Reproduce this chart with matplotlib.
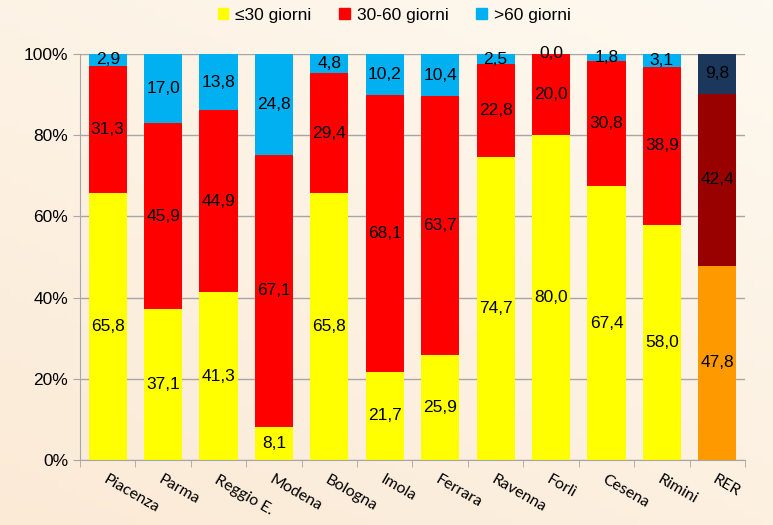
import numpy as np
import matplotlib.pyplot as plt

# dati (%)
aree = ["Piacenza", "Parma", "Reggio E.", "Modena", "Bologna", "Imola",
        "Ferrara", "Ravenna", "Forlì", "Cesena", "Rimini", "RER"]
fino30 = [65.8, 37.1, 41.3, 8.1, 65.8, 21.7, 25.9, 74.7, 80.0, 67.4, 58.0, 47.8]
da30a60 = [31.3, 45.9, 44.9, 67.1, 29.4, 68.1, 63.7, 22.8, 20.0, 30.8, 38.9, 42.4]
oltre60 = [2.9, 17.0, 13.8, 24.8, 4.8, 10.2, 10.4, 2.5, 0.0, 1.8, 3.1, 9.8]
legenda = ["≤30 giorni", "30-60 giorni", ">60 giorni"]

colori = ["#FFFF00", "#FF0000", "#00B0F0"]
colori_rer = ["#FF9900", "#990000", "#1B375C"]

num_font = ["Liberation Sans", "DejaVu Sans"]

fig = plt.figure(figsize=(7.73, 5.25), dpi=100)
fig.patch.set_facecolor("#FDF3E4")

# sfondo sfumato
bg = fig.add_axes([0, 0, 1, 1], zorder=-1)
gy, gx = np.mgrid[0:1:60j, 0:1:80j]
t = np.clip(0.6 * gy + 0.4 * gx, 0, 1)
c0 = np.array([0xFB, 0xEA, 0xD6]) / 255
c1 = np.array([0xFE, 0xF9, 0xF0]) / 255
img = c0 * (1 - t[..., None]) + c1 * t[..., None]
bg.imshow(img, origin="lower", aspect="auto", extent=[0, 1, 0, 1])
bg.axis("off")

ax = fig.add_axes([80 / 773, 65 / 525, 665 / 773, 406 / 525])
ax.set_facecolor("none")

x = np.arange(len(aree))
serie = [fino30, da30a60, oltre60]
base = np.zeros(len(aree))
for i, vals in enumerate(serie):
    vals = np.array(vals)
    cols = [colori[i]] * (len(aree) - 1) + [colori_rer[i]]
    ax.bar(x, vals, 0.69, bottom=base, color=cols, zorder=2)
    for xi, b, v in zip(x, base, vals):
        ax.text(xi, b + v / 2, f"{v:.1f}".replace(".", ","), ha="center",
                va="center", fontsize=12.5, family=num_font, zorder=3)
    base += vals

# legenda in alto
handles = [plt.Rectangle((0, 0), 1, 1, color=c) for c in colori]
fig.legend(handles, legenda, loc="upper center", bbox_to_anchor=(0.51, 1.015),
           ncol=3, frameon=False, handlelength=0.6, handleheight=0.6,
           handletextpad=0.4, columnspacing=1.6,
           prop={"family": num_font, "size": 12.5})

ax.set_xlim(-0.5, len(aree) - 0.5)
ax.set_ylim(0, 100)
ax.set_yticks(range(0, 101, 20))
ax.set_yticklabels([f"{v}%" for v in range(0, 101, 20)],
                   family=num_font, fontsize=12.5)
ax.yaxis.grid(True, color="#A6A6A6", linewidth=1, zorder=0)

ax.set_xticks(x)
ax.set_xticklabels(aree, rotation=-30, ha="left", rotation_mode="anchor",
                   family=["Lato", "DejaVu Sans"], fontsize=11.5)
ax.tick_params(axis="x", length=0, pad=9)
ax.set_xticks(np.arange(-0.5, len(aree)), minor=True)
ax.tick_params(axis="x", which="minor", length=5, color="#A6A6A6")
ax.tick_params(axis="y", length=5, color="#A6A6A6")
for s in ["top", "right"]:
    ax.spines[s].set_visible(False)
for s in ["left", "bottom"]:
    ax.spines[s].set_color("#A6A6A6")

fig.savefig("out.png", dpi=100, facecolor=fig.get_facecolor())
